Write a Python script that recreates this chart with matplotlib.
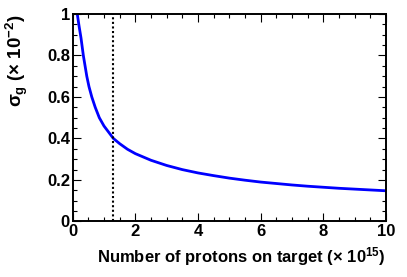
import matplotlib
matplotlib.use("Agg")
import matplotlib.pyplot as plt
from matplotlib.ticker import MultipleLocator

plt.rcParams['font.family'] = ['Liberation Sans', 'DejaVu Sans']
plt.rcParams['mathtext.fontset'] = 'custom'
plt.rcParams['mathtext.rm'] = 'Liberation Sans:bold'
plt.rcParams['mathtext.it'] = 'Liberation Sans:bold'
plt.rcParams['mathtext.bf'] = 'Liberation Sans:bold'

# values
n_protons = [0.147, 0.2, 0.265, 0.34, 0.45, 0.52, 0.61, 0.72, 0.85, 1.0, 1.1,
             1.3, 1.5, 1.75, 2.0, 2.5, 3.0, 3.5, 4.0, 4.5, 5.0, 5.5, 6.0,
             6.5, 7.0, 7.5, 8.0, 8.5, 9.0, 9.5, 10.0]
sigma_g = [1.0, 0.945, 0.885, 0.80, 0.70, 0.65, 0.60, 0.55, 0.50, 0.46, 0.44,
           0.40, 0.375, 0.348, 0.327, 0.295, 0.27, 0.25, 0.234, 0.221,
           0.209, 0.199, 0.19, 0.183, 0.176, 0.17, 0.165, 0.16, 0.156,
           0.152, 0.148]
marker_x = 1.3

fig = plt.figure(figsize=(4.07, 2.77), dpi=100)
ax = fig.add_axes([0.1786, 0.2004, 0.7698, 0.7491])

ax.plot(n_protons, sigma_g, color='#0000ff', lw=2, solid_joinstyle='round')
ax.plot([marker_x, marker_x], [0, 1], color='black', lw=1.5, ls=(0, (1, 1.2)))

ax.set_xlim(0, 10)
ax.set_ylim(0, 1)
ax.xaxis.set_major_locator(MultipleLocator(2))
ax.xaxis.set_minor_locator(MultipleLocator(0.5))
ax.yaxis.set_major_locator(MultipleLocator(0.2))
ax.yaxis.set_minor_locator(MultipleLocator(0.05))
ax.tick_params(which='both', direction='in', top=True, right=True, width=0.8)
ax.tick_params(which='major', length=6, labelsize=12, pad=2)
ax.tick_params(which='minor', length=3)
ax.set_xticks([0, 2, 4, 6, 8, 10])
ax.set_xticklabels(['0', '2', '4', '6', '8', '10'], fontweight='bold')
ax.set_yticks([0, 0.2, 0.4, 0.6, 0.8, 1.0])
ax.set_yticklabels(['0', '0.2', '0.4', '0.6', '0.8', '1'], fontweight='bold')
for s in ax.spines.values():
    s.set_linewidth(1.4)

ax.set_xlabel(r'Number of protons on target ($\times$ 10$^{15}$)',
              fontsize=12, fontweight='bold', loc='right', labelpad=4)
ax.set_ylabel(r'$\sigma_{g}$ ($\times$ 10$^{-2}$)',
              fontsize=13.5, fontweight='bold', loc='top', labelpad=12)

fig.savefig('out.png', dpi=100)
